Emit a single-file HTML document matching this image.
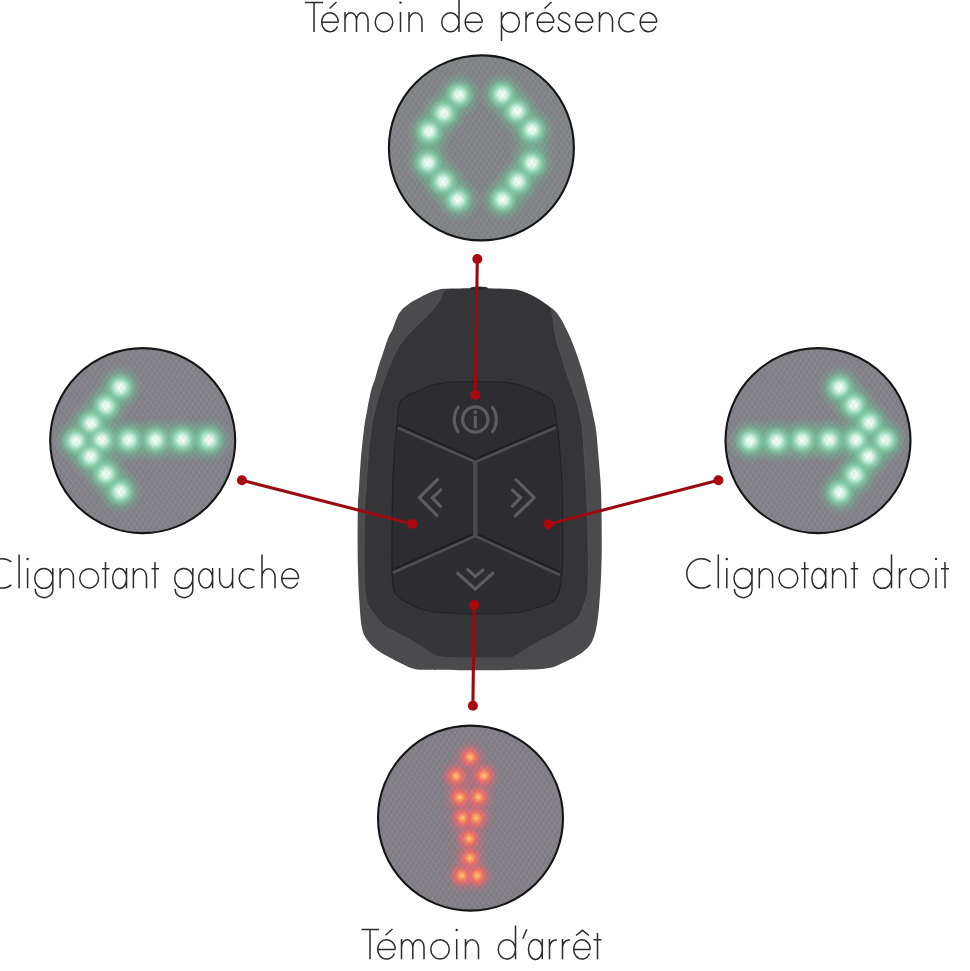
<!DOCTYPE html>
<html><head><meta charset="utf-8">
<style>
html,body{margin:0;padding:0;background:#fff;width:970px;height:971px;overflow:hidden}
svg{display:block;position:absolute;left:0;top:0}
</style></head><body>
<svg width="970" height="971" viewBox="0 0 970 971">
<defs>
<filter id="blur6" x="-50%" y="-50%" width="200%" height="200%"><feGaussianBlur stdDeviation="6"/></filter>
<radialGradient id="gG">
 <stop offset="0" stop-color="#f6fffa"/>
 <stop offset="0.25" stop-color="#e4f9ec"/>
 <stop offset="0.45" stop-color="#b0e8ca" stop-opacity="0.95"/>
 <stop offset="0.7" stop-color="#86d2aa" stop-opacity="0.6"/>
 <stop offset="1" stop-color="#76c89e" stop-opacity="0"/>
</radialGradient>
<radialGradient id="gH">
 <stop offset="0" stop-color="#76c99e" stop-opacity="0.75"/>
 <stop offset="0.55" stop-color="#6fbb93" stop-opacity="0.45"/>
 <stop offset="1" stop-color="#6aa88a" stop-opacity="0"/>
</radialGradient>
<radialGradient id="gR">
 <stop offset="0" stop-color="#ffd070"/>
 <stop offset="0.2" stop-color="#ffa05c"/>
 <stop offset="0.5" stop-color="#f06a60" stop-opacity="0.9"/>
 <stop offset="1" stop-color="#e0607a" stop-opacity="0"/>
</radialGradient>
<radialGradient id="rH">
 <stop offset="0" stop-color="#f06a58" stop-opacity="0.6"/>
 <stop offset="0.6" stop-color="#d46878" stop-opacity="0.28"/>
 <stop offset="1" stop-color="#c06878" stop-opacity="0"/>
</radialGradient>
<pattern id="hA" width="4.6" height="4.6" patternUnits="userSpaceOnUse" patternTransform="rotate(-58)">
 <path d="M0 0.5H4.6" stroke="#b4b2ba" stroke-width="0.8" stroke-opacity="0.22"/>
</pattern>
<pattern id="hB" width="4.6" height="4.6" patternUnits="userSpaceOnUse" patternTransform="rotate(52)">
 <path d="M0 0.5H4.6" stroke="#b4b2ba" stroke-width="0.8" stroke-opacity="0.18"/>
</pattern>
</defs>

<g>
<circle cx="481.4" cy="147.9" r="92.5" fill="#7f8084"/>
<circle cx="142.7" cy="440.6" r="92.5" fill="#807e85"/>
<circle cx="818.0" cy="440.6" r="92.5" fill="#807e85"/>
<circle cx="470.5" cy="818.1" r="92.5" fill="#7f7b83"/>
</g>
<g id="leds">
<g fill="none" stroke="#6fc096" stroke-width="26" stroke-linecap="round" stroke-linejoin="round" opacity="0.5" filter="url(#blur6)">
<polyline points="459.1,95.0 443.9,113.2 429.1,131.6 428.0,162.8 443.1,181.6 457.8,199.6"/>
<polyline points="502.2,94.5 516.9,111.4 532.0,129.7 532.0,163.2 517.7,181.6 502.8,199.6"/>
<polyline points="120.4,387.4 106.0,406.0 91.1,423.5 76.1,441.0 90.5,456.5 106.0,474.0 120.4,491.5"/>
<polyline points="76.1,441.0 209.0,440.0"/>
<polyline points="839.6,387.4 854.0,405.0 869.5,422.5 885.0,440.0 868.5,456.5 855.0,475.0 839.6,492.6"/>
<polyline points="750.0,441.0 885.0,440.0"/>
</g>
<g fill="none" stroke="#e06068" stroke-width="20" stroke-linecap="round" stroke-linejoin="round" opacity="0.25" filter="url(#blur6)">
<polyline points="470,757 470,876"/><polyline points="456,776 462,818 469,838 462,876"/><polyline points="484,776 476,818 470,858 477,876"/>
</g>
<g fill="url(#gH)"><circle cx="459.1" cy="95.0" r="23"/><circle cx="443.9" cy="113.2" r="23"/><circle cx="429.1" cy="131.6" r="23"/><circle cx="428.0" cy="162.8" r="23"/><circle cx="443.1" cy="181.6" r="23"/><circle cx="457.8" cy="199.6" r="23"/><circle cx="502.2" cy="94.5" r="23"/><circle cx="516.9" cy="111.4" r="23"/><circle cx="532.0" cy="129.7" r="23"/><circle cx="532.0" cy="163.2" r="23"/><circle cx="517.7" cy="181.6" r="23"/><circle cx="502.8" cy="199.6" r="23"/><circle cx="120.4" cy="387.4" r="23"/><circle cx="106.0" cy="406.0" r="23"/><circle cx="91.1" cy="423.5" r="23"/><circle cx="76.1" cy="441.0" r="23"/><circle cx="101.9" cy="440.0" r="23"/><circle cx="128.7" cy="440.0" r="23"/><circle cx="155.5" cy="440.0" r="23"/><circle cx="182.3" cy="439.5" r="23"/><circle cx="209.0" cy="440.0" r="23"/><circle cx="90.5" cy="456.5" r="23"/><circle cx="106.0" cy="474.0" r="23"/><circle cx="120.4" cy="491.5" r="23"/><circle cx="839.6" cy="387.4" r="23"/><circle cx="854.0" cy="405.0" r="23"/><circle cx="869.5" cy="422.5" r="23"/><circle cx="885.0" cy="440.0" r="23"/><circle cx="856.0" cy="440.0" r="23"/><circle cx="829.3" cy="440.0" r="23"/><circle cx="802.5" cy="440.0" r="23"/><circle cx="776.7" cy="441.0" r="23"/><circle cx="750.0" cy="441.0" r="23"/><circle cx="868.5" cy="456.5" r="23"/><circle cx="855.0" cy="475.0" r="23"/><circle cx="839.6" cy="492.6" r="23"/></g>
<g fill="url(#gG)"><circle cx="459.1" cy="95.0" r="15"/><circle cx="443.9" cy="113.2" r="15"/><circle cx="429.1" cy="131.6" r="15"/><circle cx="428.0" cy="162.8" r="15"/><circle cx="443.1" cy="181.6" r="15"/><circle cx="457.8" cy="199.6" r="15"/><circle cx="502.2" cy="94.5" r="15"/><circle cx="516.9" cy="111.4" r="15"/><circle cx="532.0" cy="129.7" r="15"/><circle cx="532.0" cy="163.2" r="15"/><circle cx="517.7" cy="181.6" r="15"/><circle cx="502.8" cy="199.6" r="15"/><circle cx="120.4" cy="387.4" r="15"/><circle cx="106.0" cy="406.0" r="15"/><circle cx="91.1" cy="423.5" r="15"/><circle cx="76.1" cy="441.0" r="15"/><circle cx="101.9" cy="440.0" r="15"/><circle cx="128.7" cy="440.0" r="15"/><circle cx="155.5" cy="440.0" r="15"/><circle cx="182.3" cy="439.5" r="15"/><circle cx="209.0" cy="440.0" r="15"/><circle cx="90.5" cy="456.5" r="15"/><circle cx="106.0" cy="474.0" r="15"/><circle cx="120.4" cy="491.5" r="15"/><circle cx="839.6" cy="387.4" r="15"/><circle cx="854.0" cy="405.0" r="15"/><circle cx="869.5" cy="422.5" r="15"/><circle cx="885.0" cy="440.0" r="15"/><circle cx="856.0" cy="440.0" r="15"/><circle cx="829.3" cy="440.0" r="15"/><circle cx="802.5" cy="440.0" r="15"/><circle cx="776.7" cy="441.0" r="15"/><circle cx="750.0" cy="441.0" r="15"/><circle cx="868.5" cy="456.5" r="15"/><circle cx="855.0" cy="475.0" r="15"/><circle cx="839.6" cy="492.6" r="15"/></g>
<g fill="url(#rH)"><circle cx="470.0" cy="757.1" r="18"/><circle cx="456.1" cy="776.2" r="18"/><circle cx="483.9" cy="775.6" r="18"/><circle cx="459.8" cy="797.5" r="18"/><circle cx="478.3" cy="797.2" r="18"/><circle cx="462.8" cy="818.0" r="18"/><circle cx="476.2" cy="818.0" r="18"/><circle cx="469.0" cy="838.6" r="18"/><circle cx="470.0" cy="858.1" r="18"/><circle cx="461.8" cy="875.7" r="18"/><circle cx="477.2" cy="875.7" r="18"/></g>
<g fill="url(#gR)"><circle cx="470.0" cy="757.1" r="12"/><circle cx="456.1" cy="776.2" r="12"/><circle cx="483.9" cy="775.6" r="12"/><circle cx="459.8" cy="797.5" r="12"/><circle cx="478.3" cy="797.2" r="12"/><circle cx="462.8" cy="818.0" r="12"/><circle cx="476.2" cy="818.0" r="12"/><circle cx="469.0" cy="838.6" r="12"/><circle cx="470.0" cy="858.1" r="12"/><circle cx="461.8" cy="875.7" r="12"/><circle cx="477.2" cy="875.7" r="12"/></g>
</g>
<g stroke="none">
<circle cx="481.4" cy="147.9" r="92.5" fill="url(#hA)"/><circle cx="481.4" cy="147.9" r="92.5" fill="url(#hB)"/>
<circle cx="142.7" cy="440.6" r="92.5" fill="url(#hA)"/><circle cx="142.7" cy="440.6" r="92.5" fill="url(#hB)"/>
<circle cx="818.0" cy="440.6" r="92.5" fill="url(#hA)"/><circle cx="818.0" cy="440.6" r="92.5" fill="url(#hB)"/>
<circle cx="470.5" cy="818.1" r="92.5" fill="url(#hA)"/><circle cx="470.5" cy="818.1" r="92.5" fill="url(#hB)"/>
</g>
<g fill="none" stroke="#151515" stroke-width="2.1">
<circle cx="481.4" cy="147.9" r="92.5"/>
<circle cx="142.7" cy="440.6" r="92.5"/>
<circle cx="818.0" cy="440.6" r="92.5"/>
<circle cx="470.5" cy="818.1" r="92.5"/>
</g>
<g id="remote">
 <path fill="#4b4b4e" d="M478.0 288.2 C485.5 288.2 493.7 288.4 500.0 288.6 C506.3 288.8 511.5 288.9 516.0 289.6 C520.5 290.3 523.5 291.6 527.0 293.0 C530.5 294.4 533.5 296.0 536.7 297.8 C539.9 299.6 542.9 301.8 546.0 304.0 C549.1 306.2 552.8 308.7 555.3 311.2 C557.8 313.7 559.1 315.9 561.0 319.0 C562.9 322.1 565.0 326.5 566.6 329.8 C568.2 333.1 569.2 335.0 570.8 338.7 C572.3 342.4 574.0 346.8 575.9 352.1 C577.8 357.4 580.4 365.1 582.1 370.6 C583.8 376.1 584.6 379.6 586.0 385.0 C587.4 390.4 589.1 397.2 590.5 403.0 C591.9 408.8 593.2 415.2 594.2 420.0 C595.2 424.8 595.5 425.3 596.3 432.0 C597.1 438.7 598.0 450.3 598.8 460.0 C599.6 469.7 600.5 478.3 601.0 490.0 C601.5 501.7 601.6 518.3 601.7 530.0 C601.8 541.7 601.8 550.0 601.6 560.0 C601.4 570.0 601.0 580.0 600.3 590.0 C599.6 600.0 598.9 611.6 597.6 620.0 C596.3 628.4 595.0 635.2 592.5 640.6 C590.0 646.0 587.5 648.5 582.6 652.2 C577.7 655.9 569.1 660.1 563.0 662.8 C556.9 665.5 554.8 667.4 546.0 668.6 C537.2 669.8 522.7 669.7 510.0 670.0 C497.3 670.3 483.3 670.2 470.0 670.2 C456.7 670.2 439.5 670.1 430.0 669.8 C420.5 669.5 419.6 670.5 413.0 668.5 C406.4 666.5 396.2 660.8 390.2 657.7 C384.2 654.6 380.6 652.6 376.8 649.7 C373.0 646.8 369.9 643.9 367.4 640.3 C364.9 636.7 363.4 634.7 362.0 628.0 C360.6 621.3 360.0 609.7 359.3 600.0 C358.6 590.3 358.3 580.0 358.0 570.0 C357.7 560.0 357.6 550.8 357.6 540.0 C357.6 529.2 357.7 513.3 357.9 505.0 C358.1 496.7 358.4 497.5 358.9 490.0 C359.4 482.5 360.0 470.0 360.8 460.0 C361.6 450.0 362.9 438.2 363.9 430.0 C364.9 421.8 365.8 417.6 367.0 411.0 C368.2 404.4 369.8 396.0 371.1 390.6 C372.5 385.2 373.9 382.7 375.1 378.8 C376.3 374.9 376.8 371.9 378.2 367.5 C379.6 363.1 381.7 357.2 383.4 352.1 C385.1 347.0 387.0 340.7 388.5 337.0 C390.0 333.3 391.1 332.6 392.4 329.8 C393.6 327.0 394.6 323.1 396.0 320.0 C397.4 316.9 398.3 314.0 400.6 311.2 C402.9 308.4 406.6 305.4 410.0 303.0 C413.4 300.6 417.9 298.6 421.2 296.8 C424.5 295.1 426.9 293.8 430.0 292.5 C433.1 291.2 435.6 289.9 439.8 289.2 C444.0 288.5 448.6 288.7 455.0 288.5 C461.4 288.3 470.5 288.2 478.0 288.2Z"/>
 <path fill="#353538" d="M478.0 288.8 C485.5 288.8 493.7 289.0 500.0 289.2 C506.3 289.4 511.5 289.5 516.0 290.2 C520.5 290.9 523.5 292.2 527.0 293.6 C530.5 295.0 533.5 296.6 536.7 298.4 C539.9 300.2 543.6 302.8 546.0 304.6 C548.4 306.5 549.8 307.3 551.0 309.5 C552.2 311.7 552.2 313.2 553.0 318.0 C553.8 322.8 554.5 331.3 556.0 338.0 C557.5 344.7 559.9 351.2 562.0 358.0 C564.1 364.8 566.2 372.0 568.5 379.0 C570.8 386.0 573.9 393.2 576.0 400.0 C578.1 406.8 579.9 414.7 581.0 420.0 C582.1 425.3 582.0 425.3 582.6 432.0 C583.2 438.7 584.0 450.3 584.6 460.0 C585.2 469.7 585.9 478.3 586.4 490.0 C586.9 501.7 587.5 518.3 587.8 530.0 C588.1 541.7 588.3 550.0 588.3 560.0 C588.3 570.0 588.3 582.8 587.7 590.0 C587.1 597.2 585.7 599.2 584.6 603.0 C583.5 606.8 582.5 609.6 580.9 612.6 C579.3 615.6 578.1 618.3 575.0 621.0 C571.9 623.7 569.3 625.2 562.4 629.0 C555.5 632.8 541.7 639.4 533.5 644.0 C525.3 648.6 517.6 654.3 513.3 656.5 C509.0 658.7 514.7 657.1 507.5 657.2 C500.3 657.3 479.9 657.2 470.0 657.2 C460.1 657.2 453.5 657.4 447.8 657.0 C442.1 656.6 440.4 657.0 435.8 655.0 C431.2 653.0 424.3 647.7 420.0 645.0 C415.7 642.3 413.3 640.9 410.0 639.0 C406.7 637.1 403.8 635.5 400.0 633.5 C396.2 631.5 390.8 629.7 387.0 627.0 C383.2 624.3 379.8 620.5 377.0 617.5 C374.2 614.5 371.7 611.8 370.0 609.0 C368.3 606.2 367.6 604.5 366.7 601.0 C365.8 597.5 365.2 594.8 364.8 588.0 C364.4 581.2 364.2 573.8 364.2 560.0 C364.2 546.2 364.5 516.7 364.8 505.0 C365.1 493.3 365.5 497.5 366.0 490.0 C366.5 482.5 367.1 470.0 367.9 460.0 C368.7 450.0 369.9 438.2 371.0 430.0 C372.1 421.8 372.4 419.5 374.7 411.0 C376.9 402.5 381.0 388.8 384.5 379.0 C388.0 369.2 392.4 358.7 395.7 352.1 C398.9 345.6 400.6 344.0 404.0 339.7 C407.4 335.4 411.6 331.1 416.3 326.3 C421.0 321.5 427.9 315.6 432.0 311.0 C436.1 306.4 438.8 302.4 441.0 299.0 C443.2 295.6 442.7 292.1 445.0 290.5 C447.3 288.9 449.5 289.4 455.0 289.1 C460.5 288.8 470.5 288.8 478.0 288.8Z"/>
 <path fill="#2d2c30" stroke="#222125" stroke-width="1.2" d="M476.0 381.6 C482.3 381.6 489.5 381.7 495.0 381.9 C500.5 382.1 504.7 382.2 509.0 382.8 C513.3 383.4 517.0 384.0 521.0 385.2 C525.0 386.4 529.7 388.6 533.0 390.0 C536.3 391.4 538.8 392.6 541.0 393.6 C543.2 394.6 544.5 395.3 546.0 396.2 C547.5 397.1 548.9 397.9 550.0 398.8 C551.1 399.7 551.8 400.0 552.6 401.5 C553.4 403.0 554.0 404.8 554.6 408.0 C555.2 411.2 555.6 416.5 556.2 420.5 C556.8 424.5 557.3 425.4 558.0 432.0 C558.7 438.6 559.8 450.3 560.5 460.0 C561.2 469.7 561.9 478.3 562.3 490.0 C562.6 501.7 562.5 518.3 562.6 530.0 C562.7 541.7 562.8 551.9 562.6 560.0 C562.4 568.1 562.0 573.4 561.4 578.6 C560.8 583.8 560.0 587.9 559.2 591.0 C558.4 594.1 557.9 595.2 556.8 597.0 C555.7 598.8 554.4 600.7 552.4 602.0 C550.4 603.3 549.1 603.6 545.0 605.0 C540.9 606.4 533.0 609.0 527.7 610.3 C522.4 611.6 521.9 612.5 513.3 613.0 C504.7 613.5 487.6 613.6 476.0 613.6 C464.4 613.6 452.8 613.5 443.8 612.8 C434.8 612.1 427.6 611.0 422.0 609.5 C416.4 608.0 412.9 605.0 410.0 603.6 C407.1 602.2 406.4 602.2 404.4 601.0 C402.4 599.8 399.8 598.2 398.2 596.6 C396.6 595.0 395.4 594.0 394.5 591.6 C393.6 589.2 393.1 586.0 392.7 582.4 C392.3 578.8 392.1 577.1 392.0 570.0 C391.9 562.9 391.9 553.3 392.0 540.0 C392.1 526.7 392.3 503.3 392.6 490.0 C392.9 476.7 393.3 469.7 393.9 460.0 C394.5 450.3 395.7 438.6 396.3 432.0 C396.9 425.4 396.9 424.5 397.3 420.5 C397.7 416.5 398.0 411.2 398.5 408.0 C399.0 404.8 399.5 403.0 400.2 401.5 C400.9 400.0 401.7 399.7 402.8 398.8 C403.9 397.9 405.3 397.1 406.8 396.2 C408.3 395.3 409.6 394.6 411.8 393.6 C414.0 392.6 416.6 391.4 420.0 390.0 C423.4 388.6 428.0 386.4 432.0 385.2 C436.0 384.0 439.8 383.4 444.0 382.8 C448.2 382.2 451.7 382.1 457.0 381.9 C462.3 381.7 469.7 381.6 476.0 381.6Z"/>
 <ellipse cx="479" cy="288.3" rx="9" ry="1.8" fill="#2a2a2c"/>
 <path fill="none" stroke="#58585b" stroke-width="0.9" opacity="0.8" d="M551.0 309.5 C551.3 310.9 552.2 313.2 553.0 318.0 C553.8 322.8 554.5 331.3 556.0 338.0 C557.5 344.7 559.9 351.2 562.0 358.0 C564.1 364.8 566.2 372.0 568.5 379.0 C570.8 386.0 573.9 393.2 576.0 400.0 C578.1 406.8 579.9 414.7 581.0 420.0 C582.1 425.3 582.0 425.3 582.6 432.0 C583.2 438.7 584.0 450.3 584.6 460.0 C585.2 469.7 585.9 478.3 586.4 490.0 C586.9 501.7 587.5 518.3 587.8 530.0 C588.1 541.7 588.3 550.0 588.3 560.0 C588.3 570.0 588.3 582.8 587.7 590.0 C587.1 597.2 585.7 599.2 584.6 603.0 C583.5 606.8 582.5 609.6 580.9 612.6 C579.3 615.6 578.1 618.3 575.0 621.0 C571.9 623.7 564.5 627.7 562.4 629.0"/>
 <path fill="none" stroke="#58585b" stroke-width="0.9" opacity="0.8" d="M377.0 617.5 C375.8 616.1 371.7 611.8 370.0 609.0 C368.3 606.2 367.6 604.5 366.7 601.0 C365.8 597.5 365.2 594.8 364.8 588.0 C364.4 581.2 364.2 573.8 364.2 560.0 C364.2 546.2 364.5 516.7 364.8 505.0 C365.1 493.3 365.5 497.5 366.0 490.0 C366.5 482.5 367.1 470.0 367.9 460.0 C368.7 450.0 369.9 438.2 371.0 430.0 C372.1 421.8 372.4 419.5 374.7 411.0 C376.9 402.5 381.0 388.8 384.5 379.0 C388.0 369.2 392.4 358.7 395.7 352.1 C398.9 345.6 400.6 344.0 404.0 339.7 C407.4 335.4 411.6 331.1 416.3 326.3 C421.0 321.5 427.9 315.6 432.0 311.0 C436.1 306.4 439.5 301.0 441.0 299.0"/>
 <g stroke="#1d1c20" stroke-width="5" fill="none" stroke-linejoin="miter" opacity="0.85">
  <path d="M397.5 426.4 L475.4 460.8 L556 426.2"/>
  <path d="M475.3 461.6 L475.3 536"/>
  <path d="M393 571.4 L475.3 534.8 L560 573.8"/>
 </g>
 <g stroke="#4e4e52" stroke-width="2.9" fill="none" stroke-linejoin="miter">
  <path d="M397.5 427.6 L475.4 462 L556 427.4"/>
  <path d="M393 572.6 L475.3 536 L560 575"/>
 </g>
 <path d="M475.3 462 L475.3 536" stroke="#4a4a4e" stroke-width="4.6" fill="none"/>
 <g stroke="#5d5d61" stroke-width="3.2" fill="none" stroke-linecap="round" stroke-linejoin="miter">
  <circle cx="475.3" cy="419.5" r="12.7"/>
  <path d="M458.1 407.4 A21 21 0 0 0 458.1 431.6"/>
  <path d="M492.5 407.4 A21 21 0 0 1 492.5 431.6"/>
  <path d="M475.3 417.2 L475.3 427"/>
  <path d="M437.4 479.6 L419.3 497.5 L436.8 515.4"/>
  <path d="M440.8 489.8 L432.3 497.8 L440.6 506.4"/>
  <path d="M516 479.7 L534.2 497.7 L515.4 515.8"/>
  <path d="M512.6 490.3 L520.6 497.7 L512.6 506.2"/>
  <path d="M457.6 573.2 L475.3 589.2 L492.8 573.2"/>
  <path d="M467.8 569.6 L475.3 576.4 L483 570"/>
 </g>
 <circle cx="475.3" cy="412.1" r="1.9" fill="#5d5d61"/>
</g>
<g stroke="#9a0b11" stroke-width="3.1" fill="none" stroke-linecap="round">
 <path d="M477.3 259 L475.4 395"/>
 <path d="M241.9 480.2 L412.2 523.9"/>
 <path d="M718.4 480.2 L548.3 524.2"/>
 <path d="M474.1 605.1 L472.9 705.8"/>
</g>
<g fill="#a8080e">
 <circle cx="477.3" cy="259" r="5"/><circle cx="475.4" cy="395" r="5"/>
 <circle cx="241.9" cy="480.2" r="5"/><circle cx="412.2" cy="523.9" r="5"/>
 <circle cx="718.4" cy="480.2" r="5"/><circle cx="548.3" cy="524.2" r="5"/>
 <circle cx="474.1" cy="605.1" r="5"/><circle cx="472.9" cy="705.8" r="5"/>
</g>
<g id="txt" fill="none" stroke="#2b2b2b" stroke-width="1.5" stroke-linecap="butt"><path d="M305 2.5H323 M314 2.5V32 M321.75 22.25H338.25 M338.25 22.25A8.25 9.5 0 1 0 337.48 26.26 M329.5 8.5L336.5 2 M345 12V32 M345 19.95A5.75 7.2 0 0 1 356.5 19.95 M356.5 19.95V32 M356.5 19.95A5.75 7.2 0 0 1 368 19.95 M368 19.95V32 M375.25 22.25A8.75 9.5 0 1 0 392.75 22.25A8.75 9.5 0 1 0 375.25 22.25 M400.5 12V32 M409 12V32 M409 20.95A6.5 8.2 0 0 1 422 20.95 M422 20.95V32 M441.75 22.25A8.62 9.5 0 1 0 459 22.25A8.62 9.5 0 1 0 441.75 22.25 M459 -4V32 M465.25 22.25H482.25 M482.25 22.25A8.5 9.5 0 1 0 481.45 26.26 M501.5 22.25A8.88 9.5 0 1 0 519.25 22.25A8.88 9.5 0 1 0 501.5 22.25 M501.5 12V41 M526 12V32 M526 20.75C526.5 15.25 529.5 12.75 534 13.05 M537.25 22.25H553.75 M553.75 22.25A8.25 9.5 0 1 0 552.98 26.26 M544.5 8.5L551.5 2 M569.9 16.95C568.7 14.05 567.05 12.75 564.25 12.75 C560.4 12.75 558.75 14.95 558.75 17.75 C558.75 21.55 569.75 22.45 569.75 26.75 C569.75 29.95 567.45 31.75 564.25 31.75 C560.85 31.75 558.6 29.95 558.2 26.55 M575.75 22.25H592.75 M592.75 22.25A8.5 9.5 0 1 0 591.95 26.26 M599.5 12V32 M599.5 20.95A6.5 8.2 0 0 1 612.5 20.95 M612.5 20.95V32 M634.25 14.88A9.5 9.5 0 1 0 634.25 29.62 M640.25 22.25H656.75 M656.75 22.25A8.25 9.5 0 1 0 655.98 26.26 M11.35 561.96A14.65 14.65 0 1 0 11.35 584.84 M19.1 554.5V588.3 M27.6 568V588.3 M34.85 578.4A8.98 9.65 0 1 0 52.8 578.4A8.98 9.65 0 1 0 34.85 578.4 M52.8 568V590.3 M52.8 590.3A8.75 8.05 0 0 1 35.3 588.8 M60.1 568V588.3 M60.1 576.95A6.65 8.2 0 0 1 73.4 576.95 M73.4 576.95V588.3 M79.75 578.4A9.4 9.65 0 1 0 98.55 578.4A9.4 9.65 0 1 0 79.75 578.4 M105.5 562V588.3 M102 568.75H109.5 M112.75 578.4A6.88 9.65 0 1 0 126.5 578.4A6.88 9.65 0 1 0 112.75 578.4 M126.5 568V588.3 M133.4 568V588.3 M133.4 576.95A6.55 8.2 0 0 1 146.5 576.95 M146.5 576.95V588.3 M155 562V588.3 M151.5 568.75H159 M174.75 578.4A9.03 9.65 0 1 0 192.8 578.4A9.03 9.65 0 1 0 174.75 578.4 M192.8 568V590.3 M192.8 590.3A8.8 8.05 0 0 1 175.2 588.8 M198.75 578.4A6.92 9.65 0 1 0 212.6 578.4A6.92 9.65 0 1 0 198.75 578.4 M212.6 568V588.3 M219.6 568V579.35 M219.6 579.35A6.5 8.2 0 0 0 232.6 579.35 M232.6 568V588.3 M254.25 570.37A9.65 9.65 0 1 0 254.25 586.43 M262 554.5V588.3 M262 576.95A6.5 8.2 0 0 1 275 576.95 M275 576.95V588.3 M281.75 578.4H298.55 M298.55 578.4A8.4 9.65 0 1 0 297.76 582.48 M710.55 561.96A14.65 14.65 0 1 0 710.55 584.84 M718.3 554.5V588.3 M726.8 568V588.3 M734.05 578.4A8.98 9.65 0 1 0 752 578.4A8.98 9.65 0 1 0 734.05 578.4 M752 568V590.3 M752 590.3A8.75 8.05 0 0 1 734.5 588.8 M759.3 568V588.3 M759.3 576.95A6.65 8.2 0 0 1 772.6 576.95 M772.6 576.95V588.3 M778.95 578.4A9.4 9.65 0 1 0 797.75 578.4A9.4 9.65 0 1 0 778.95 578.4 M804.7 562V588.3 M801.2 568.75H808.7 M811.95 578.4A6.88 9.65 0 1 0 825.7 578.4A6.88 9.65 0 1 0 811.95 578.4 M825.7 568V588.3 M832.6 568V588.3 M832.6 576.95A6.55 8.2 0 0 1 845.7 576.95 M845.7 576.95V588.3 M854.2 562V588.3 M850.7 568.75H858.2 M873.75 578.4A8.88 9.65 0 1 0 891.5 578.4A8.88 9.65 0 1 0 873.75 578.4 M891.5 554.5V588.3 M899.5 568V588.3 M899.5 576.75C900 571.25 903 568.75 907 569.05 M910.25 578.4A9.25 9.65 0 1 0 928.75 578.4A9.25 9.65 0 1 0 910.25 578.4 M936 568V588.3 M945 562V588.3 M941 568.75H949 M361.5 929.5H379 M370 929.5V959.3 M377.75 949.4H395.25 M395.25 949.4A8.75 9.65 0 1 0 394.43 953.48 M385.5 935.2L392.5 929 M401.5 939V959.3 M401.5 946.95A5.65 7.2 0 0 1 412.8 946.95 M412.8 946.95V959.3 M412.8 946.95A5.6 7.2 0 0 1 424 946.95 M424 946.95V959.3 M430.75 949.4A9.25 9.65 0 1 0 449.25 949.4A9.25 9.65 0 1 0 430.75 949.4 M456.7 939V959.3 M465.5 939V959.3 M465.5 947.95A6.5 8.2 0 0 1 478.5 947.95 M478.5 947.95V959.3 M498.25 949.4A8.62 9.65 0 1 0 515.5 949.4A8.62 9.65 0 1 0 498.25 949.4 M515.5 925.5V959.3 M522.8 938.8L526.8 929.3 M528.55 949.4A6.88 9.65 0 1 0 542.3 949.4A6.88 9.65 0 1 0 528.55 949.4 M542.3 939V959.3 M549.5 939V959.3 M549.5 947.75C550 942.25 553 939.75 557 940.05 M562.5 939V959.3 M562.5 947.75C563 942.25 566 939.75 570 940.05 M573.75 949.4H590.25 M590.25 949.4A8.25 9.65 0 1 0 589.48 953.48 M576 935.5L582.5 930.3L589 935.5 M597.5 933V959.3 M593.5 939.75H601.5"/></g>
<g fill="#2b2b2b"><circle cx="400.50" cy="2.60" r="1.2"/><circle cx="27.60" cy="559.00" r="1.2"/><circle cx="726.80" cy="559.00" r="1.2"/><circle cx="936.00" cy="559.00" r="1.2"/><circle cx="456.70" cy="930.00" r="1.2"/></g>
</svg>
</body></html>
